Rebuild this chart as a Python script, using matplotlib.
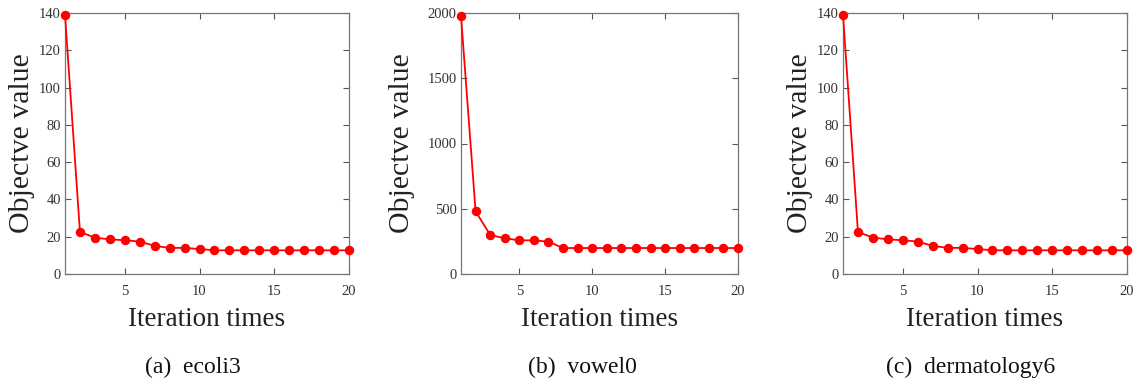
import matplotlib
matplotlib.use("Agg")
import matplotlib.pyplot as plt

iterations = list(range(1, 21))
ecoli3 = [139, 22.6, 19.5, 18.6, 18.1, 17.4, 15.1, 14.0, 14.0, 13.4,
          12.7, 12.7, 12.7, 12.7, 12.7, 12.7, 12.7, 12.7, 12.7, 12.7]
vowel0 = [1977, 481, 299, 274, 258, 258, 248, 199, 199, 199,
          199, 199, 199, 199, 199, 199, 199, 199, 199, 199]
dermatology6 = [139, 22.6, 19.5, 18.6, 18.1, 17.4, 15.1, 14.0, 14.0, 13.4,
                12.7, 12.7, 12.7, 12.7, 12.7, 12.7, 12.7, 12.7, 12.7, 12.7]
captions = ["(a)  ecoli3", "(b)  vowel0", "(c)  dermatology6"]
yticks_list = [[0, 20, 40, 60, 80, 100, 120, 140],
               [0, 500, 1000, 1500, 2000],
               [0, 20, 40, 60, 80, 100, 120, 140]]
ylims = [(0, 140), (0, 2000), (0, 140)]
xticks = [5, 10, 15, 20]

plt.rcParams['font.family'] = ['Liberation Serif', 'DejaVu Serif']

W, H = 1147, 384
fig = plt.figure(figsize=(W / 100, H / 100), dpi=100)

boxes = [(65, 349), (461, 738), (843, 1127)]
top_px, bot_px = 13, 274
cap_x = [193, 582, 971]
ylabel_x_px = [22, 402, 800]
series = [ecoli3, vowel0, dermatology6]

for i in range(3):
    l, r = boxes[i]
    ax = fig.add_axes([l / W, (H - bot_px) / H, (r - l) / W, (bot_px - top_px) / H])
    ax.plot(iterations, series[i], color='#ff0000', marker='o', markersize=5.8,
            linewidth=1.3, clip_on=False, zorder=3)
    ax.set_xlim(1, 20)
    ax.set_ylim(*ylims[i])
    ax.set_xticks(xticks)
    ax.set_yticks(yticks_list[i])
    ax.tick_params(direction='in', top=True, right=True, labelsize=10.5,
                   labelcolor='#333333', color='#555555', length=4, width=0.8)
    ax.tick_params(axis='y', pad=3)
    ax.tick_params(axis='x', pad=8)
    for s in ax.spines.values():
        s.set_color('#777777')
        s.set_linewidth(0.9)
    ax.set_xlabel('Iteration times', fontsize=19.5, color='#222222', va='center')
    ax.xaxis.set_label_coords(0.5, (bot_px - 319) / (bot_px - top_px))
    ax.set_ylabel('Objectve value', fontsize=21.5, color='#222222', va='center')
    ax.yaxis.set_label_coords((ylabel_x_px[i] - l) / (r - l), 0.5)
    fig.text(cap_x[i] / W, 1 - 367 / H, captions[i], ha='center', va='center',
             fontsize=17, color='#111111')

fig.savefig('out.png', dpi=100)
